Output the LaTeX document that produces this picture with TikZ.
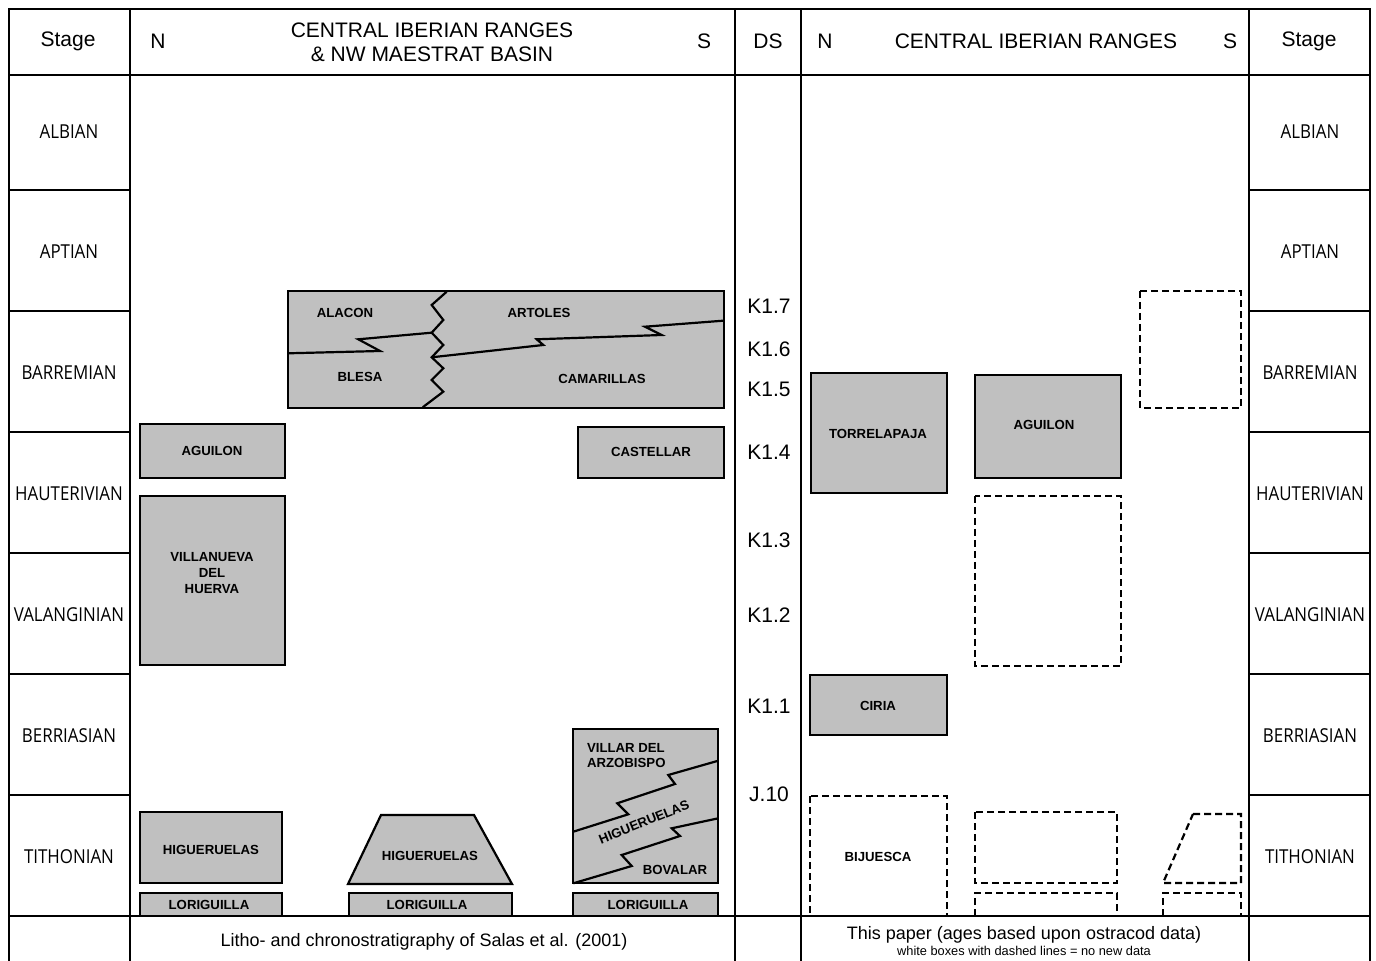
\documentclass[tikz,border=0pt]{standalone}
\usepackage{fontspec}
\setmainfont{Liberation Sans}
\newfontfamily\stagefont[FakeStretch=0.88]{Open Sans}
\usepackage{tikz}
\definecolor{unitgrey}{HTML}{C0C0C0}
\tikzstyle{grid} = [line width=1.2pt]
\tikzstyle{unit} = [draw, line width=1.1pt, fill=unitgrey]
\tikzstyle{nodata} = [draw, line width=1.1pt, dash pattern=on 3.5pt off 2pt]
\tikzstyle{contact} = [line width=1.1pt, line join=miter]
\tikzstyle{stage} = [font=\stagefont\fontsize{9.6}{11}\selectfont]
\tikzstyle{head} = [font=\fontsize{10.5}{12}\selectfont, align=center]
\tikzstyle{sequence} = [font=\fontsize{10.5}{12}\selectfont]
\tikzstyle{unitlabel} = [font=\bfseries\fontsize{6.6}{7.8}\selectfont, align=center]
\tikzstyle{foot} = [font=\fontsize{9}{10}\selectfont, align=center]

\begin{document}
\begin{tikzpicture}[x=0.5pt, y=-0.5pt]
        \useasboundingbox (0,0) rectangle (1376,961);
        % lithostratigraphic units, left panel (Salas et al.)
        \draw [unit] (140,424) rectangle (285,478);
        \node (aguilon-l) [unitlabel] at (212,451) {AGUILON};
        \draw [unit] (140,496) rectangle (285,665);
        \node (villanueva) [unitlabel] at (212,573) {VILLANUEVA\\DEL\\HUERVA};
        \draw [unit] (140,812) rectangle (282,883);
        \node (higueruelas-l) [unitlabel] at (211,850) {HIGUERUELAS};
        \draw [unit] (140,893) rectangle (282,916);
        \node (loriguilla-l) [unitlabel] at (209,905) {LORIGUILLA};
        \draw [unit] (381,815) -- (474,815) -- (512,884) -- (348,884) -- cycle;
        \node (higueruelas-m) [unitlabel] at (430,856) {HIGUERUELAS};
        \draw [unit] (349,893) rectangle (512,916);
        \node (loriguilla-m) [unitlabel] at (427,905) {LORIGUILLA};
        \draw [unit] (573,893) rectangle (718,916);
        \node (loriguilla-r) [unitlabel] at (648,905) {LORIGUILLA};
        \draw [unit] (578,427) rectangle (724,478);
        \node (castellar) [unitlabel] at (651,452) {CASTELLAR};
        % Barremian complex
        \draw [unit] (288,291) rectangle (724,408);
        \draw [contact] (446.7,291.7) -- (431.7,305) -- (443.3,320) -- (431.7,332.7) -- (443.3,345) -- (431.7,357.3) -- (443.3,368.3) -- (431.7,380) -- (443.3,391.7) -- (422.7,407.3);
        \draw [contact] (288.3,353.3) -- (380,351) -- (358.3,339.3) -- (431.7,332.7);
        \draw [contact] (431.7,357.3) -- (543.3,345) -- (536.7,339.3) -- (661.7,335) -- (645,326.7) -- (723.3,320.7);
        \node (alacon) [unitlabel] at (345,313) {ALACON};
        \node (artoles) [unitlabel] at (539,313) {ARTOLES};
        \node (blesa) [unitlabel] at (360,377) {BLESA};
        \node (camarillas) [unitlabel] at (602,379) {CAMARILLAS};
        % Tithonian-Berriasian complex
        \draw [unit] (573,729) rectangle (718,883);
        \draw [contact] (573.3,831.7) -- (628.3,814.3) -- (617.3,803.3) -- (675,784) -- (668.3,775) -- (718.3,760.7);
        \draw [contact] (573.3,883.3) -- (631.7,866) -- (621.7,855) -- (680,836) -- (671.7,828.3) -- (718.3,818.3);
        \node (villar) [unitlabel, align=left, anchor=north west] at (580,736) {VILLAR DEL\\ARZOBISPO};
        \node (higueruelas-r) [unitlabel, rotate=22] at (644,822) {HIGUERUELAS};
        \node (bovalar) [unitlabel] at (675,870) {BOVALAR};
        % lithostratigraphic units, right panel (this paper)
        \draw [unit] (811,373) rectangle (947,493);
        \node (torrelapaja) [unitlabel] at (878,434) {TORRELAPAJA};
        \draw [unit] (975,375) rectangle (1121,478);
        \node (aguilon-r) [unitlabel] at (1044,425) {AGUILON};
        \draw [unit] (810,675) rectangle (947,735);
        \node (ciria) [unitlabel] at (878,706) {CIRIA};
        \draw [nodata] (1140,291) rectangle (1241,408);
        \draw [nodata] (975,496) rectangle (1121,666);
        \draw [nodata] (810,796) rectangle (947,916);
        \node (bijuesca) [unitlabel] at (878,857) {BIJUESCA};
        \draw [nodata] (975,812) rectangle (1117,883);
        \draw [nodata] (975,916) -- (975,893) -- (1117,893) -- (1117,916);
        \draw [nodata] (1193,814) -- (1241,814) -- (1241,883) -- (1163,883) -- cycle;
        \draw [nodata] (1163,916) -- (1163,893) -- (1241,893) -- (1241,916);
        % frame
        \draw [grid] (9,961) -- (9,9) -- (1370,9) -- (1370,961);
        \draw [grid] (9,75) -- (1370,75);
        \draw [grid] (9,916) -- (1370,916);
        \draw [grid] (130,9) -- (130,961);
        \draw [grid] (735,9) -- (735,961);
        \draw [grid] (801,9) -- (801,961);
        \draw [grid] (1249,9) -- (1249,961);
        \draw [grid] (9,190) -- (130,190);
        \draw [grid] (9,311) -- (130,311);
        \draw [grid] (9,432) -- (130,432);
        \draw [grid] (9,553) -- (130,553);
        \draw [grid] (9,674) -- (130,674);
        \draw [grid] (9,795) -- (130,795);
        \draw [grid] (1249,190) -- (1370,190);
        \draw [grid] (1249,311) -- (1370,311);
        \draw [grid] (1249,432) -- (1370,432);
        \draw [grid] (1249,553) -- (1370,553);
        \draw [grid] (1249,674) -- (1370,674);
        \draw [grid] (1249,795) -- (1370,795);
        % headings
        \node (stage-head-l) [head] at (68,41) {Stage};
        \node (north-l) [head] at (158,41) {N};
        \node (title-l) [head] at (432,42) {CENTRAL IBERIAN RANGES\\\& NW MAESTRAT BASIN};
        \node (south-l) [head] at (704,41) {S};
        \node (ds-head) [head] at (768,41) {DS};
        \node (north-r) [head] at (825,41) {N};
        \node (title-r) [head] at (1036,41) {CENTRAL IBERIAN RANGES};
        \node (south-r) [head] at (1230,41) {S};
        \node (stage-head-r) [head] at (1309,41) {Stage};
        % stages
        \node (albian-l) [stage] at (69,132) {ALBIAN};
        \node (aptian-l) [stage] at (69,252) {APTIAN};
        \node (barremian-l) [stage] at (69,373) {BARREMIAN};
        \node (hauterivian-l) [stage] at (69,494) {HAUTERIVIAN};
        \node (valanginian-l) [stage] at (69,615) {VALANGINIAN};
        \node (berriasian-l) [stage] at (69,736) {BERRIASIAN};
        \node (tithonian-l) [stage] at (69,857) {TITHONIAN};
        \node (albian-r) [stage] at (1310,132) {ALBIAN};
        \node (aptian-r) [stage] at (1310,252) {APTIAN};
        \node (barremian-r) [stage] at (1310,373) {BARREMIAN};
        \node (hauterivian-r) [stage] at (1310,494) {HAUTERIVIAN};
        \node (valanginian-r) [stage] at (1310,615) {VALANGINIAN};
        \node (berriasian-r) [stage] at (1310,736) {BERRIASIAN};
        \node (tithonian-r) [stage] at (1310,857) {TITHONIAN};
        % depositional sequences
        \node (k17) [sequence] at (769,306) {K1.7};
        \node (k16) [sequence] at (769,349) {K1.6};
        \node (k15) [sequence] at (769,389) {K1.5};
        \node (k14) [sequence] at (769,452) {K1.4};
        \node (k13) [sequence] at (769,540) {K1.3};
        \node (k12) [sequence] at (769,615) {K1.2};
        \node (k11) [sequence] at (769,706) {K1.1};
        \node (j10) [sequence] at (769,794) {J.10};
        % footer
        \node (source-l) [foot] at (424,942) {Litho- and chronostratigraphy of Salas et al. (2001)};
        \node (source-r) [foot] at (1024,935) {This paper (ages based upon ostracod data)};
        \node (legend) [font=\fontsize{6.4}{7}\selectfont] at (1024,951) {white boxes with dashed lines = no new data};
    \end{tikzpicture}
\end{document}
